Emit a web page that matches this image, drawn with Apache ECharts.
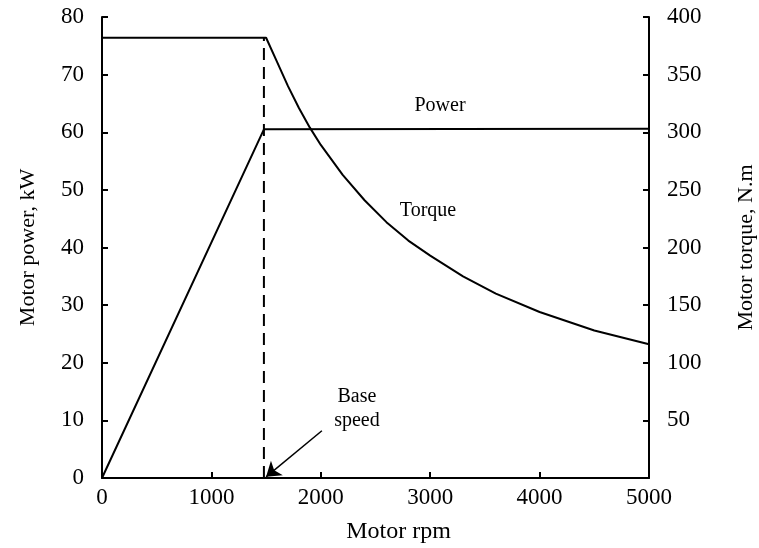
<!DOCTYPE html>
<html>
<head>
<meta charset="utf-8">
<script src="https://cdn.jsdelivr.net/npm/echarts@6/dist/echarts.min.js"></script>
<style>
html,body{margin:0;padding:0;background:#fff;overflow:hidden;}
#c{width:759px;height:548px;}
</style>
</head>
<body>
<div id="c"></div>
<script>
// Data
var powerRpm = [0, 1480, 5000];
var powerKW = [0, 60.5, 60.6];
var torqueRpm = [0, 1500, 1600, 1700, 1800, 1900, 2000, 2200, 2400, 2600, 2800, 3000, 3300, 3600, 4000, 4500, 5000];
var torqueNm = [382, 382, 361, 340, 321, 304, 289, 263, 241, 222, 206, 193, 175, 160, 144, 128, 116];
var baseSpeed = 1480;
var baseLine = [0, 76.5];
var xTicks = [0, 1000, 2000, 3000, 4000, 5000];

var FONT = '"Liberation Serif", "DejaVu Serif", serif';
var chart = echarts.init(document.getElementById('c'), null, { width: 759, height: 548 });

var powerData = powerRpm.map(function (r, i) { return [r, powerKW[i]]; });
var torqueData = torqueRpm.map(function (r, i) { return [r, torqueNm[i]]; });
var baseData = baseLine.map(function (v) { return [baseSpeed, v]; });

var axisLine = { show: true, lineStyle: { color: '#000', width: 2 } };
var axisTick = { show: true, inside: true, length: 6, lineStyle: { color: '#000', width: 2 } };
var label = { color: '#000', fontFamily: FONT, fontSize: 23 };
var plain = function (v) { return String(v); };

chart.setOption({
  animation: false,
  backgroundColor: '#fff',
  grid: { left: 102, right: 110, top: 17, bottom: 70, containLabel: false, outerBoundsMode: 'none' },
  xAxis: {
    type: 'value', min: xTicks[0], max: xTicks[xTicks.length - 1], interval: 1000,
    axisLine: axisLine, axisTick: axisTick, splitLine: { show: false },
    axisLabel: Object.assign({ margin: 8, formatter: plain, hideOverlap: false }, label),
    name: 'Motor rpm', nameLocation: 'middle', nameGap: 42,
    nameTextStyle: { color: '#000', fontFamily: FONT, fontSize: 24, padding: [0, 0, 0, 46] }
  },
  yAxis: [{
    type: 'value', min: 0, max: 80, interval: 10, position: 'left',
    axisLine: axisLine, axisTick: axisTick, splitLine: { show: false },
    axisLabel: Object.assign({ margin: 18, formatter: plain }, label),
    name: 'Motor power, kW', nameLocation: 'middle', nameGap: 63, nameRotate: 90,
    nameTextStyle: { color: '#000', fontFamily: FONT, fontSize: 22 }
  }, {
    type: 'value', min: 0, max: 400, interval: 50, position: 'right',
    axisLine: axisLine, axisTick: axisTick, splitLine: { show: false },
    axisLabel: Object.assign({ margin: 18, formatter: function (v) { return v === 0 ? '' : String(v); } }, label),
    name: 'Motor torque, N.m', nameLocation: 'middle', nameGap: 86, nameRotate: 90,
    nameTextStyle: { color: '#000', fontFamily: FONT, fontSize: 22 }
  }],
  series: [{
    type: 'line', name: 'Power', data: powerData, yAxisIndex: 0,
    symbol: 'none', lineStyle: { color: '#000', width: 2 }
  }, {
    type: 'line', name: 'Torque', data: torqueData, yAxisIndex: 1,
    symbol: 'none', smooth: false, lineStyle: { color: '#000', width: 2 }
  }, {
    type: 'line', name: 'Base', data: baseData, yAxisIndex: 0,
    symbol: 'none', lineStyle: { color: '#000', width: 2, type: [12, 7] },
    markLine: {
      silent: true, symbol: ['none', 'arrow'], symbolSize: 14,
      lineStyle: { color: '#000', width: 1.5, type: 'solid' }, label: { show: false },
      data: [[{ coord: [2010, 8.2] }, { coord: [1500, 0.2] }]]
    }
  }]
});

function txt(rpm, val, str) {
  var p = chart.convertToPixel({ xAxisIndex: 0, yAxisIndex: 0 }, [rpm, val]);
  return { type: 'text', x: p[0], y: p[1], style: { text: str, fill: '#000', font: '20px ' + FONT, textAlign: 'center', textVerticalAlign: 'middle' } };
}
chart.setOption({
  graphic: [
    txt(3090, 64.6, 'Power'),
    txt(2980, 46.3, 'Torque'),
    txt(2330, 14.1, 'Base'),
    txt(2330, 10.0, 'speed')
  ]
});
</script>
</body>
</html>
